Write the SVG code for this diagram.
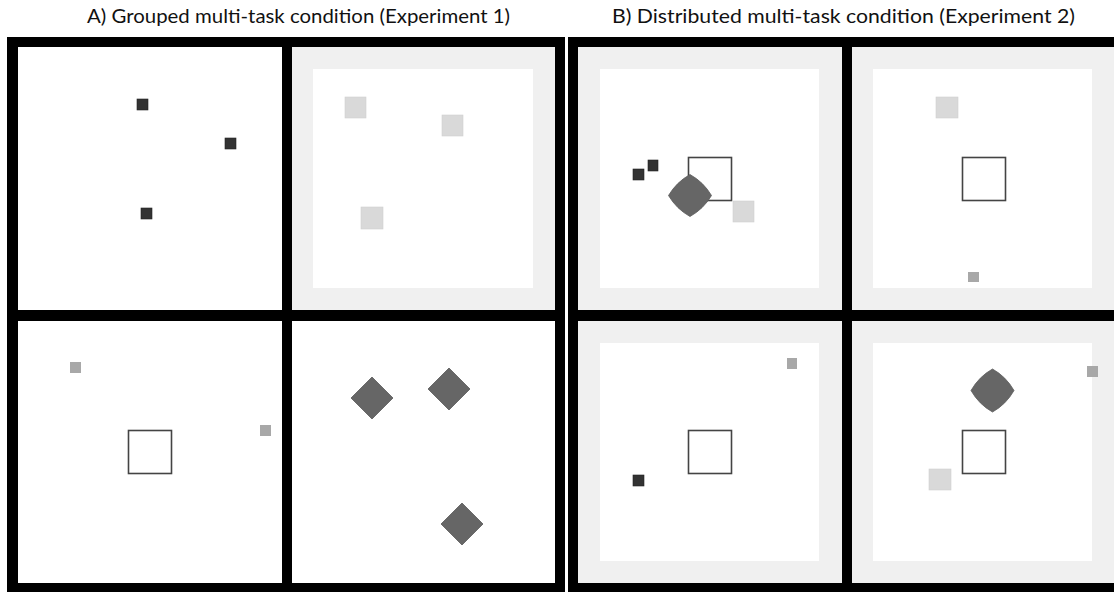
<svg xmlns="http://www.w3.org/2000/svg" width="1114" height="592" viewBox="0 0 1114 592">
<style>
.title{font-family:"Lato","Liberation Sans",sans-serif;font-size:19px;fill:#111}
.frame{fill:#000}
.panel{fill:#fff}
.gpanel{fill:#f0f0f0}
.inner{fill:#fff}
.dark{fill:#333;stroke:#222;stroke-width:0.6}
.light{fill:#d9d9d9;stroke:#cfcfcf;stroke-width:0.6}
.mid{fill:#a8a8a8}
.outline{fill:none;stroke:#444;stroke-width:1.6}
.diamond{fill:#666;stroke:#5a5a5a;stroke-width:0.8;stroke-linejoin:round}
</style>
<rect width="1114" height="592" fill="#fff"/>
<text class="title" x="87" y="23" textLength="423" lengthAdjust="spacingAndGlyphs">A) Grouped multi-task condition (Experiment 1)</text>
<text class="title" x="612" y="23" textLength="463" lengthAdjust="spacingAndGlyphs">B) Distributed multi-task condition (Experiment 2)</text>

<g id="frameA">
<rect class="frame" x="7" y="37" width="558" height="555"/>
</g>
<g id="frameB">
<rect class="frame" x="568" y="37" width="546" height="555"/>
</g>

<g id="A-topleft">
<rect class="panel" x="18" y="47" width="264" height="263"/>
<rect class="dark" x="137" y="99" width="11" height="11"/>
<rect class="dark" x="225" y="138" width="11" height="11"/>
<rect class="dark" x="141" y="208" width="11" height="11"/>
</g>
<g id="A-topright">
<rect class="gpanel" x="292" y="47" width="263" height="263"/>
<rect class="inner" x="313" y="69" width="220" height="219"/>
<rect class="light" x="345" y="97" width="21" height="21"/>
<rect class="light" x="442" y="115" width="21" height="21"/>
<rect class="light" x="361" y="207" width="22" height="22"/>
</g>
<g id="A-bottomleft">
<rect class="panel" x="18" y="321" width="264" height="262"/>
<rect class="mid" x="70" y="362" width="11" height="11"/>
<rect class="mid" x="260" y="425" width="11" height="11"/>
<rect class="outline" x="128.5" y="430.5" width="43" height="43"/>
</g>
<g id="A-bottomright">
<rect class="panel" x="292" y="321" width="263" height="262"/>
<path class="diamond" d="M372 377 L393 398 L372 419 L351 398 Z"/>
<path class="diamond" d="M449 368 L470 389 L449 410 L428 389 Z"/>
<path class="diamond" d="M462 503 L483 524 L462 545 L441 524 Z"/>
</g>

<g id="B-topleft">
<rect class="gpanel" x="578" y="47" width="264" height="263"/>
<rect class="inner" x="600" y="69" width="219" height="219"/>
<rect class="dark" x="633" y="169" width="11" height="11"/>
<rect class="dark" x="648" y="160" width="10" height="11"/>
<rect class="outline" x="688.5" y="157.5" width="43" height="43"/>
<path class="diamond" d="M690 174.5 Q703.5 182 711.5 195.5 Q703.5 209 690 216.5 Q676.5 209 668.5 195.5 Q676.5 182 690 174.5 Z"/>
<rect class="light" x="733" y="201" width="21" height="21"/>
</g>
<g id="B-topright">
<rect class="gpanel" x="852" y="47" width="262" height="263"/>
<rect class="inner" x="873" y="69" width="219" height="219"/>
<rect class="light" x="936" y="97" width="22" height="21"/>
<rect class="outline" x="962.5" y="157.5" width="43" height="43"/>
<rect class="mid" x="968" y="272" width="11" height="10"/>
</g>
<g id="B-bottomleft">
<rect class="gpanel" x="578" y="321" width="264" height="262"/>
<rect class="inner" x="600" y="343" width="219" height="218"/>
<rect class="mid" x="787" y="358" width="10" height="11"/>
<rect class="outline" x="688.5" y="430.5" width="43" height="43"/>
<rect class="dark" x="633" y="475" width="11" height="11"/>
</g>
<g id="B-bottomright">
<rect class="gpanel" x="852" y="321" width="262" height="262"/>
<rect class="inner" x="873" y="343" width="219" height="218"/>
<path class="diamond" d="M992.5 369 Q1006 376.5 1014 390.5 Q1006 404.5 992.5 412 Q979 404.5 971 390.5 Q979 376.5 992.5 369 Z"/>
<rect class="mid" x="1087" y="366" width="11" height="11"/>
<rect class="outline" x="962.5" y="430.5" width="43" height="43"/>
<rect class="light" x="929" y="469" width="22" height="21"/>
</g>
</svg>
